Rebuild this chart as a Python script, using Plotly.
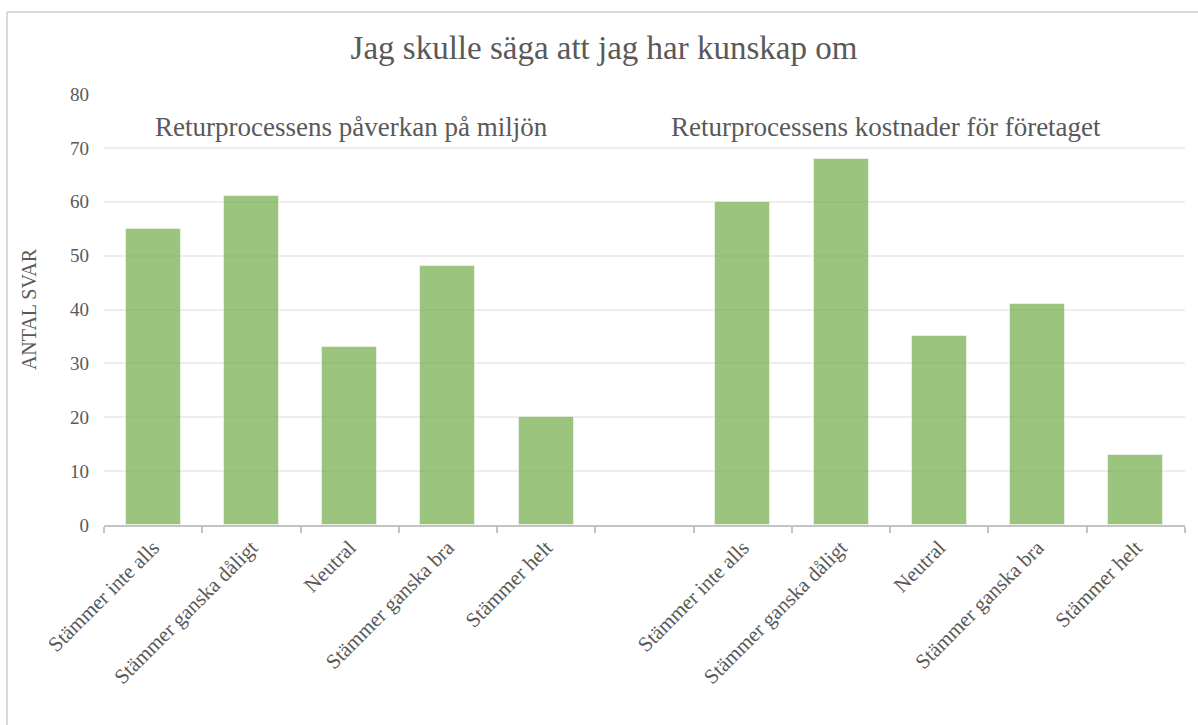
import plotly.graph_objects as go

categories = ["Stämmer inte alls", "Stämmer ganska dåligt", "Neutral", "Stämmer ganska bra", "Stämmer helt"]
group_titles = ["Returprocessens påverkan på miljön", "Returprocessens kostnader för företaget"]
miljo_values = [55, 61, 33, 48, 20]
kostnad_values = [60, 68, 35, 41, 13]
y_ticks = [0, 10, 20, 30, 40, 50, 60, 70, 80]

W, H = 1198, 725
L, R, T, B = 104, 13, 94, 200
PW, PH = W - L - R, H - T - B

def px_x(px):
    return (px - L) / PW

def px_y(py):
    return 1 - (py - T) / PH

FONT = "Liberation Serif"
GRAY = "#595959"
BAR = "rgba(112,173,71,0.70)"

x_left = list(range(len(categories)))
x_right = [i + len(categories) + 1 for i in range(len(categories))]

fig = go.Figure()
fig.add_trace(go.Bar(x=x_left, y=miljo_values, width=0.56,
                     marker=dict(color=BAR, line=dict(color="rgba(255,255,255,0.5)", width=1)),
                     showlegend=False, hoverinfo="y"))
fig.add_trace(go.Bar(x=x_right, y=kostnad_values, width=0.56,
                     marker=dict(color=BAR, line=dict(color="rgba(255,255,255,0.5)", width=1)),
                     showlegend=False, hoverinfo="y"))

n_slots = len(x_left) + 1 + len(x_right)

fig.update_layout(
    width=W, height=H,
    margin=dict(l=L, r=R, t=T, b=B, pad=0),
    paper_bgcolor="white", plot_bgcolor="white",
    font=dict(family=FONT, color=GRAY),
    title=dict(text="Jag skulle säga att jag har kunskap om",
               x=604 / W, xanchor="center", y=1 - 47 / H, yanchor="middle",
               font=dict(family=FONT, size=33, color=GRAY)),
    xaxis=dict(range=[-0.5, n_slots - 0.5],
               tickmode="array", tickvals=x_left + x_right, ticktext=categories + categories,
               tickangle=-45, ticks="", showgrid=False,
               tickfont=dict(family=FONT, size=21, color=GRAY),
               showline=True, linecolor="#c4c4c4", linewidth=2,
               minor=dict(tickmode="array", tickvals=[i - 0.5 for i in range(n_slots + 1)],
                          ticks="outside", ticklen=6, tickcolor="#c4c4c4", tickwidth=2,
                          showgrid=False),
               zeroline=False, fixedrange=True),
    yaxis=dict(range=[0, 80], tickmode="array", tickvals=y_ticks,
               showgrid=True, gridcolor="#ededed", gridwidth=1.5,
               zeroline=False, showline=False, ticks="",
               tickfont=dict(family=FONT, size=19, color=GRAY),
               ticklabelstandoff=14,
               title=dict(text="ANTAL SVAR", standoff=28,
                          font=dict(family=FONT, size=20, color=GRAY))),
    bargap=0,
)

# group sub-titles
centers = [351, 886]
for t, cx in zip(group_titles, centers):
    fig.add_annotation(text=t, xref="paper", yref="paper", x=px_x(cx), y=px_y(127),
                       xanchor="center", yanchor="middle", showarrow=False,
                       font=dict(family=FONT, size=27, color=GRAY))

# chart frame
fig.add_shape(type="line", xref="paper", yref="paper",
              x0=px_x(7), x1=px_x(7), y0=px_y(12), y1=px_y(H + 5),
              line=dict(color="#d9d9d9", width=2))
fig.add_shape(type="line", xref="paper", yref="paper",
              x0=px_x(7), x1=px_x(W + 5), y0=px_y(12), y1=px_y(12),
              line=dict(color="#d9d9d9", width=2))

fig.write_html("out.html")
